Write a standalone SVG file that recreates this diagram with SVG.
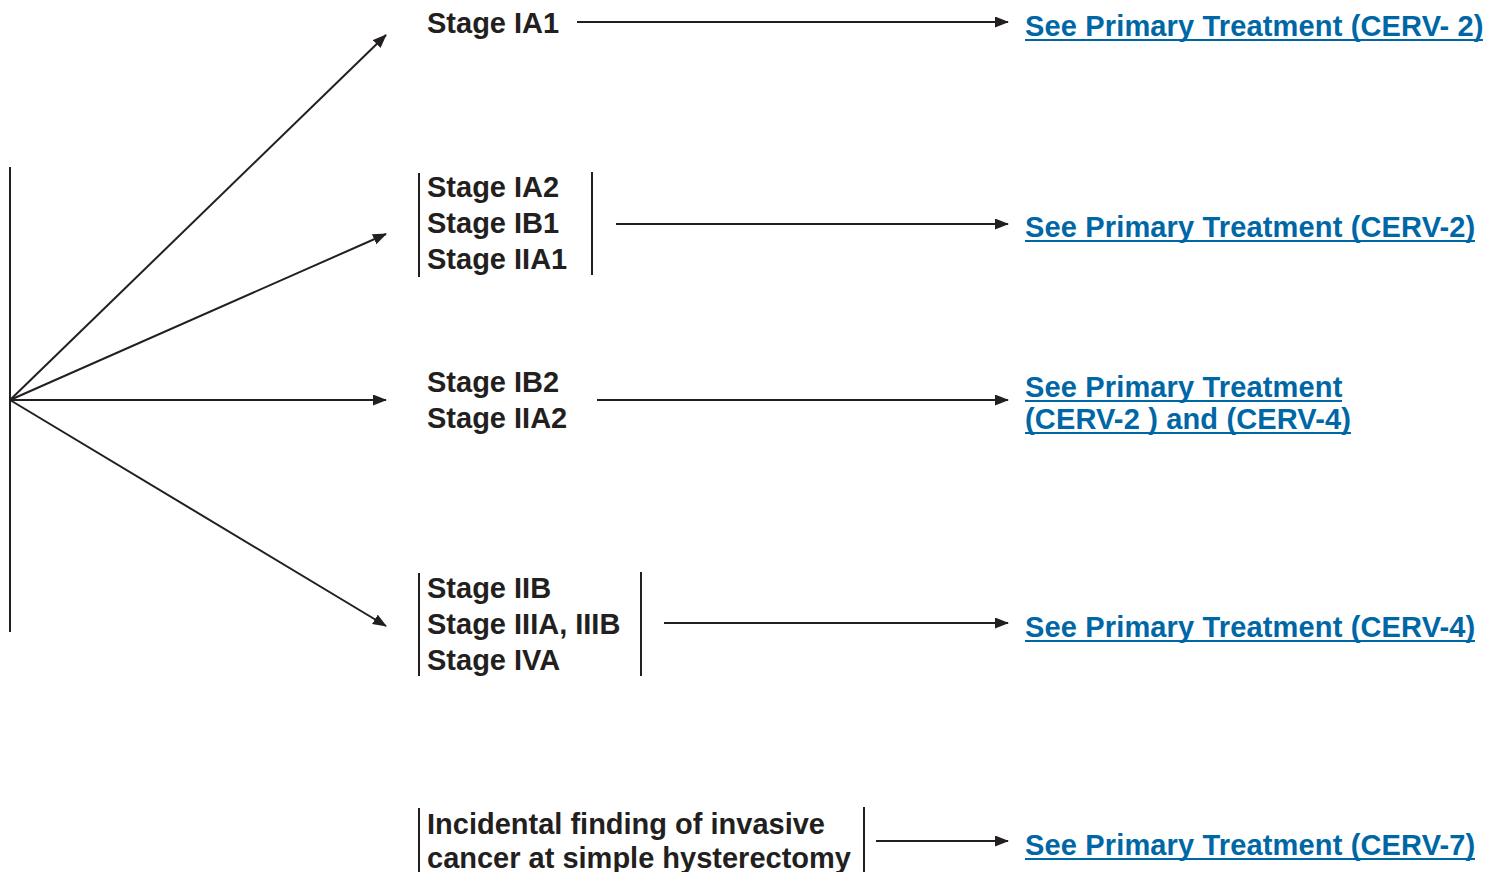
<svg xmlns="http://www.w3.org/2000/svg" width="1487" height="872" viewBox="0 0 1487 872">
  <style>
    .lbl { font-family: "Liberation Sans", Arial, sans-serif; font-weight: bold; font-size: 29px; fill: #231f20; }
    .lnk { font-family: "Liberation Sans", Arial, sans-serif; font-weight: bold; font-size: 29px; fill: #0067a6; letter-spacing: 0.15px; }
    .ul { stroke: #0067a6; stroke-width: 2; }
    .br { stroke: #231f20; stroke-width: 2; fill: none; }
    .cn { stroke: #231f20; stroke-width: 2; fill: none; marker-end: url(#ah); }
  </style>
  <defs>
    <marker id="ah" viewBox="0 0 14 11" refX="13" refY="5.5" markerWidth="14" markerHeight="11" markerUnits="userSpaceOnUse" orient="auto">
      <path d="M0,0 L14,5.5 L0,11 Z" fill="#231f20"/>
    </marker>
  </defs>
  <rect width="1487" height="872" fill="#ffffff"/>

  <!-- trunk line -->
  <line class="br" x1="10" y1="167" x2="10" y2="632"/>

  <g id="connectors">
    <line class="cn" x1="10" y1="400" x2="386" y2="35"/>
    <line class="cn" x1="10" y1="400" x2="386" y2="234"/>
    <line class="cn" x1="10" y1="400" x2="386" y2="400"/>
    <line class="cn" x1="10" y1="400" x2="386" y2="626"/>
    <line class="cn" x1="577" y1="22" x2="1008" y2="22"/>
    <line class="cn" x1="616" y1="224" x2="1008" y2="224"/>
    <line class="cn" x1="597" y1="400" x2="1008" y2="400"/>
    <line class="cn" x1="664" y1="623" x2="1008" y2="623"/>
    <line class="cn" x1="876" y1="841" x2="1008" y2="841"/>
  </g>

  <g id="stage-ia1">
    <text class="lbl" x="427" y="33">Stage IA1</text>
  </g>

  <g id="stage-ia2-ib1-iia1">
    <line class="br" x1="419" y1="173" x2="419" y2="277"/>
    <line class="br" x1="592" y1="172" x2="592" y2="275"/>
    <text class="lbl" x="427" y="197">Stage IA2</text>
    <text class="lbl" x="427" y="233">Stage IB1</text>
    <text class="lbl" x="427" y="269">Stage IIA1</text>
  </g>

  <g id="stage-ib2-iia2">
    <text class="lbl" x="427" y="392">Stage IB2</text>
    <text class="lbl" x="427" y="428">Stage IIA2</text>
  </g>

  <g id="stage-iib-iva">
    <line class="br" x1="419" y1="573" x2="419" y2="676"/>
    <line class="br" x1="641" y1="572" x2="641" y2="676"/>
    <text class="lbl" x="427" y="598">Stage IIB</text>
    <text class="lbl" x="427" y="634">Stage IIIA, IIIB</text>
    <text class="lbl" x="427" y="670">Stage IVA</text>
  </g>

  <g id="incidental">
    <line class="br" x1="419" y1="808" x2="419" y2="872"/>
    <line class="br" x1="864" y1="807" x2="864" y2="872"/>
    <text class="lbl" x="427" y="834">Incidental finding of invasive</text>
    <text class="lbl" x="427" y="868">cancer at simple hysterectomy</text>
  </g>

  <!-- link labels with drawn underlines -->
  <g id="link-cerv2-a">
    <text class="lnk" x="1025" y="36">See Primary Treatment (CERV- 2)</text>
    <line class="ul" x1="1025" y1="40" x2="1483" y2="40"/>
  </g>
  <g id="link-cerv2-b">
    <text class="lnk" x="1025" y="237">See Primary Treatment (CERV-2)</text>
    <line class="ul" x1="1025" y1="241" x2="1475" y2="241"/>
  </g>
  <g id="link-cerv2-cerv4">
    <text class="lnk" x="1025" y="397">See Primary Treatment</text>
    <line class="ul" x1="1025" y1="401" x2="1342" y2="401"/>
    <text class="lnk" x="1025" y="429">(CERV-2 ) and (CERV-4)</text>
    <line class="ul" x1="1025" y1="433" x2="1351" y2="433"/>
  </g>
  <g id="link-cerv4">
    <text class="lnk" x="1025" y="637">See Primary Treatment (CERV-4)</text>
    <line class="ul" x1="1025" y1="641" x2="1475" y2="641"/>
  </g>
  <g id="link-cerv7">
    <text class="lnk" x="1025" y="855">See Primary Treatment (CERV-7)</text>
    <line class="ul" x1="1025" y1="859" x2="1475" y2="859"/>
  </g>
</svg>
